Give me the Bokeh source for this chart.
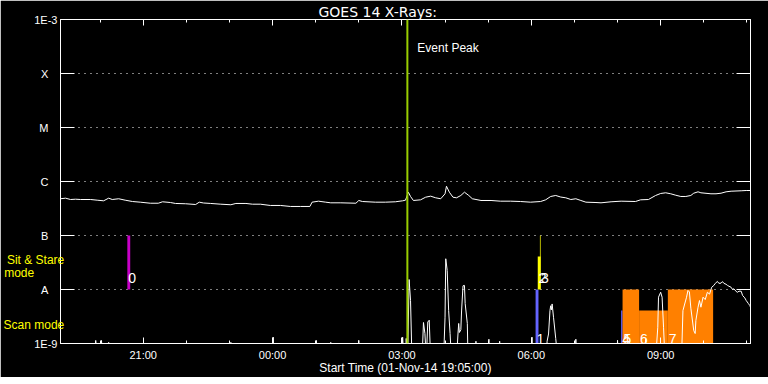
import pandas as pd
from bokeh.plotting import figure
from bokeh.models import (ColumnDataSource, FixedTicker, LogAxis, DatetimeAxis,
                          Label, Range1d, Span, DatetimeTickFormatter)
from bokeh.core.properties import value
from bokeh.embed import file_html
from bokeh.resources import INLINE

# ---------------- data ----------------
title_text = "GOES 14 X-Rays:"
x_axis_title = "Start Time (01-Nov-14 19:05:00)"
mode_labels = ["Sit & Stare", "mode", "Scan mode"]
start_time = "2014-11-01 19:05:00"
end_time = "2014-11-02 11:05:00"
event_peak = "2014-11-02 03:07:36"

# long channel (1-8 A), minutes after start / flux (W m^-2)
long_min = [0, 7, 14, 21, 28, 42, 51, 60, 67, 72, 81, 90, 100, 111, 125, 136, 142, 153, 160,
            174, 188, 193, 199, 209, 223, 237, 244, 258, 267, 278, 292, 306, 320, 334, 347,
            350, 359, 369, 376, 390, 411, 415, 420, 438, 452, 466, 476, 480, 484, 487, 491,
            501, 508, 515, 522, 529, 535, 537, 541, 546, 551, 557, 562, 568, 573, 585, 599,
            612, 626, 640, 654, 668, 675, 682, 689, 696, 703, 710, 717, 724, 731, 745, 752,
            766, 780, 800, 807, 818, 828, 835, 842, 849, 856, 863, 870, 877, 881, 887, 891,
            905, 912, 919, 926, 933, 947, 954, 960]
long_flux = [4.79e-7, 4.91e-7, 4.64e-7, 4.70e-7, 4.64e-7, 4.64e-7, 4.51e-7, 4.39e-7, 4.91e-7,
             4.64e-7, 4.79e-7, 4.51e-7, 4.26e-7, 4.14e-7, 3.96e-7, 3.96e-7, 4.21e-7, 4.08e-7,
             3.92e-7, 3.87e-7, 3.75e-7, 4.14e-7, 4.00e-7, 3.92e-7, 3.80e-7, 3.71e-7, 3.92e-7,
             3.92e-7, 3.80e-7, 3.80e-7, 3.60e-7, 3.60e-7, 3.45e-7, 3.45e-7, 3.45e-7, 4.14e-7,
             4.32e-7, 4.14e-7, 4.03e-7, 4.03e-7, 3.96e-7, 4.45e-7, 4.26e-7, 4.14e-7, 4.14e-7,
             4.21e-7, 4.39e-7, 4.51e-7, 6.34e-7, 5.28e-7, 4.45e-7, 4.58e-7, 5.12e-7, 5.35e-7,
             4.99e-7, 4.79e-7, 5.92e-7, 8.18e-7, 6.34e-7, 5.12e-7, 4.99e-7, 5.51e-7, 6.34e-7,
             5.51e-7, 4.79e-7, 4.45e-7, 4.45e-7, 4.32e-7, 4.32e-7, 4.26e-7, 4.14e-7, 4.26e-7,
             4.58e-7, 5.28e-7, 5.51e-7, 5.15e-7, 4.99e-7, 4.64e-7, 4.79e-7, 4.45e-7, 4.14e-7,
             4.08e-7, 4.03e-7, 4.21e-7, 4.32e-7, 4.26e-7, 4.58e-7, 4.64e-7, 5.51e-7, 6.00e-7,
             6.18e-7, 5.92e-7, 5.57e-7, 5.28e-7, 5.28e-7, 5.51e-7, 6.07e-7, 6.44e-7, 6.18e-7,
             5.92e-7, 5.92e-7, 6.07e-7, 6.44e-7, 6.61e-7, 6.73e-7, 6.81e-7, 6.81e-7]

# short channel (0.5-4 A), mostly below 1E-9
short_min = [0, 46, 49, 52, 56, 57, 59, 66, 67, 69,
             236, 237, 238, 295, 296, 297, 355, 356, 357, 375, 376, 377, 414, 415, 416,
             475, 476, 478, 480, 481, 483, 485, 487, 489,
             503, 505, 507, 509, 511, 513, 515,
             533, 535, 536, 538, 540, 542, 544,
             551, 553, 554, 555, 557, 558, 560, 562, 563, 566, 567,
             577, 578, 579, 595, 596, 597, 610, 611, 612, 655, 656, 657,
             676, 677, 679, 681, 682, 683, 684, 686, 689, 692,
             716, 717, 718, 774, 775, 776, 813, 814, 815,
             828, 831, 832, 835, 837, 839, 841,
             864, 866, 871, 873, 875, 877, 881, 883, 884, 887, 889, 891, 894, 897, 900,
             903, 906, 909, 911, 914, 916, 919, 921, 923, 926, 928, 930, 933, 935, 937,
             940, 942, 944, 947, 949, 952, 954, 957, 959, 960]
short_flux = [5e-10, 5e-10, 1.14e-9, 5e-10, 5e-10, 1.14e-9, 5e-10, 5e-10, 1.05e-9, 5e-10,
              5e-10, 1.05e-9, 5e-10, 5e-10, 1.31e-9, 5e-10, 5e-10, 1.14e-9, 5e-10,
              5e-10, 1.05e-9, 5e-10, 5e-10, 1.14e-9, 5e-10,
              5e-10, 1.31e-9, 5e-10, 5e-10, 1.24e-9, 5e-10, 1.53e-8, 6.25e-9, 5e-10,
              5e-10, 2.45e-9, 1.53e-9, 5e-10, 2.5e-9, 2.7e-9, 5e-10,
              5e-10, 3.07e-9, 3.71e-8, 2.25e-8, 4.08e-9, 1.53e-9, 5e-10,
              5e-10, 1.5e-9, 2.35e-9, 1.6e-9, 1.8e-9, 4.0e-9, 1.17e-8, 1.19e-8, 5.5e-9,
              2.35e-9, 5e-10,
              5e-10, 1.1e-9, 5e-10, 5e-10, 1.2e-9, 5e-10, 5e-10, 1.1e-9, 5e-10,
              5e-10, 1.31e-9, 5e-10,
              5e-10, 1.1e-9, 1.5e-9, 4.1e-9, 5.0e-9, 4.2e-9, 5.4e-9, 3.0e-9, 1.24e-9, 5e-10,
              5e-10, 1.2e-9, 5e-10, 5e-10, 1.14e-9, 5e-10, 5e-10, 1.2e-9, 5e-10,
              5e-10, 2.0e-9, 7.2e-9, 8.9e-9, 7.2e-9, 2.0e-9, 5e-10,
              5e-10, 4.08e-9, 7.2e-9, 9.6e-9, 9.0e-9, 4.5e-9, 1.74e-9, 1.53e-9, 2.67e-9,
              4.7e-9, 6.25e-9, 4.7e-9, 7.2e-9, 6.5e-9, 8.9e-9,
              8.2e-9, 1.1e-8, 1.19e-8, 1.3e-8, 1.41e-8, 1.3e-8, 1.31e-8, 1.4e-8, 1.3e-8,
              1.25e-8, 1.19e-8, 1.15e-8, 1.1e-8, 1.0e-8, 1.03e-8,
              9.2e-9, 8.9e-9, 9.3e-9, 9.3e-9, 7.74e-9, 7.0e-9, 6.25e-9, 5.5e-9, 5.06e-9, 4.7e-9]

# observation markers
obs_id = ["0", "1", "2", "3", "4", "5", "6", "7"]
obs_mode = ["sit", "scan", "sit", "sit", "scan", "scan", "scan", "scan"]
obs_start = ["2014-11-01 20:38", "2014-11-02 06:06", "2014-11-02 06:09", "2014-11-02 06:12",
             "2014-11-02 08:05", "2014-11-02 08:07", "2014-11-02 08:30", "2014-11-02 09:10"]
obs_end = ["2014-11-01 20:42", "2014-11-02 06:10", "2014-11-02 06:13", "2014-11-02 06:13",
           "2014-11-02 08:07", "2014-11-02 08:30", "2014-11-02 09:10", "2014-11-02 10:13"]
obs_top = [1e-7, 1e-8, 4.1e-8, 1e-7, 4.1e-9, 1e-8, 4.1e-9, 1e-8]
obs_color = ["#c800c8", "#6464ff", "#ffff00", "#ffff00", "#6464ff", "#ff8000", "#ff8000", "#ff8000"]

ytick_vals = [1e-9, 1e-8, 1e-7, 1e-6, 1e-5, 1e-4, 1e-3]
ytick_labels = ["1E-9", "A", "B", "C", "M", "X", "1E-3"]
xtick_times = ["2014-11-01 21:00", "2014-11-02 00:00", "2014-11-02 03:00",
               "2014-11-02 06:00", "2014-11-02 09:00"]
xtick_labels = ["21:00", "00:00", "03:00", "06:00", "09:00"]

# ---------------- plot ----------------
FONT = "Liberation Sans"
FS = "\u2007"   # figure space (padding only)
PS = "\u2008"   # punctuation space (padding only)


def ms(ts):
    return pd.Timestamp(ts).value / 1e6


t0 = pd.Timestamp(start_time)
long_src = ColumnDataSource(dict(t=(t0 + pd.to_timedelta(long_min, unit="m")).values, f=long_flux))
short_src = ColumnDataSource(dict(t=(t0 + pd.to_timedelta(short_min, unit="m")).values, f=short_flux))

obs_bottom = [1e-8 if m == "sit" else 1e-9 for m in obs_mode]
obs_label_y = [1.63e-8 if m == "sit" else 1.22e-9 for m in obs_mode]
obs_src = ColumnDataSource(dict(
    left=pd.to_datetime(obs_start).values, right=pd.to_datetime(obs_end).values,
    bottom=obs_bottom, top=obs_top, color=obs_color, id=obs_id, ly=obs_label_y))

p = figure(frame_width=690, frame_height=324, x_axis_type="datetime", y_axis_type="log",
           x_range=Range1d(ms(start_time), ms(end_time)), y_range=Range1d(1e-9, 1e-3),
           output_backend="svg", toolbar_location=None,
           min_border_left=60, min_border_right=18, min_border_top=19, min_border_bottom=10,
           background_fill_color="black", border_fill_color="black",
           outline_line_color="white", outline_line_width=1)

# title
p.title.text = title_text
p.title.align = "left"
p.title.offset = 258
p.title.standoff = 0
p.title.text_font = "DejaVu Sans"
p.title.text_font_size = "14px"
p.title.text_font_style = "normal"
p.title.text_color = "white"

# ticks
xt_ms = [ms(t) for t in xtick_times]
minor_ms = [ms(t) for t in pd.date_range("2014-11-01 20:00", "2014-11-02 11:00", freq="h")]
xticker = FixedTicker(ticks=xt_ms, minor_ticks=minor_ms)
yticker = FixedTicker(ticks=ytick_vals, minor_ticks=[])

xa = p.xaxis[0]
xa.ticker = xticker
xa.formatter = DatetimeTickFormatter(hours="%H:%M", hourmin="%H:%M", days="%H:%M")
xa.major_label_overrides = {v: lab for v, lab in zip(xt_ms, xtick_labels)}
xa.axis_label = x_axis_title
xa.major_tick_in = 6
xa.major_tick_out = 0
xa.minor_tick_in = 3
xa.minor_tick_out = 0
xa.major_label_standoff = 5
xa.axis_label_standoff = -3
xa.major_label_text_font = FONT
xa.major_label_text_font_size = "11px"
xa.major_label_text_color = "white"
xa.axis_label_text_font = FONT
xa.axis_label_text_font_size = "12px"
xa.axis_label_text_font_style = "normal"
xa.axis_label_text_color = "white"
xa.axis_line_color = "white"
xa.major_tick_line_color = "white"
xa.minor_tick_line_color = "white"

top_ax = DatetimeAxis(ticker=xticker, major_tick_in=6, major_tick_out=0, minor_tick_in=3,
                      minor_tick_out=0, major_label_text_font_size="1px",
                      major_label_text_color=None,
                      axis_line_color="white", major_tick_line_color="white",
                      minor_tick_line_color="white", major_label_standoff=0)
p.add_layout(top_ax, "above")

ya = p.yaxis[0]
ya.ticker = yticker
ya.major_label_overrides = {v: (lab if lab.startswith("1E") else lab + FS + PS)
                            for v, lab in zip(ytick_vals, ytick_labels)}
ya.major_tick_in = 14
ya.major_tick_out = 0
ya.minor_tick_in = 0
ya.minor_tick_out = 0
ya.major_label_standoff = 3
ya.major_label_text_font = FONT
ya.major_label_text_font_size = "11px"
ya.major_label_text_color = "white"
ya.axis_line_color = "white"
ya.major_tick_line_color = "white"
# mode annotations live in the left axis label (horizontal, multi-line, right aligned)
ya.axis_label = ("\n" * 17 + mode_labels[0] + "\n" + mode_labels[1] + FS * 4 + PS
                 + "\n" * 4 + mode_labels[2])
ya.axis_label_orientation = "horizontal"
ya.axis_label_standoff = -33
ya.axis_label_text_font = FONT
ya.axis_label_text_font_size = "12px"
ya.axis_label_text_font_style = "normal"
ya.axis_label_text_color = "#ffff00"
ya.axis_label_text_line_height = 0.93

right_ax = LogAxis(ticker=yticker, major_tick_in=14, major_tick_out=0, minor_tick_in=0,
                   minor_tick_out=0, major_label_text_font_size="1px",
                   major_label_text_color=None,
                   axis_line_color="white", major_tick_line_color="white",
                   major_label_standoff=0)
p.add_layout(right_ax, "right")

p.xgrid.visible = False
p.ygrid.ticker = FixedTicker(ticks=ytick_vals[1:-1])
p.ygrid.grid_line_color = "white"
p.ygrid.grid_line_dash = "1 5"
p.ygrid.grid_line_width = 1

# observation bars
p.quad(left="left", right="right", bottom="bottom", top="top", fill_color="color",
       line_color=None, source=obs_src)

# light curves
p.line("t", "f", source=long_src, line_color="white", line_width=1)
p.line("t", "f", source=short_src, line_color="white", line_width=1)

# bar labels
p.text(x="left", y="ly", text="id", source=obs_src, text_color="white",
       text_font=value(FONT), text_font_size="14px", x_offset=1, text_baseline="alphabetic")

# event peak
p.add_layout(Span(location=ms(event_peak), dimension="height", line_color="#99cc00",
                  line_width=2))
p.add_layout(Label(x=ms(event_peak), y=3e-4, x_offset=10, text="Event Peak",
                   text_color="white", text_font=FONT, text_font_size="12px",
                   text_baseline="alphabetic"))

open("out.html", "w").write(file_html(p, INLINE))
